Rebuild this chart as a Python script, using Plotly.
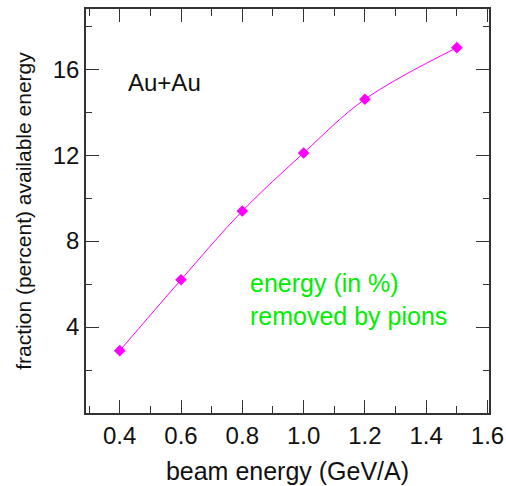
import plotly.graph_objects as go

beam_energy = [0.4, 0.6, 0.8, 1.0, 1.2, 1.5]
fraction_pct = [2.9, 6.2, 9.4, 12.1, 14.6, 17.0]

x_tickvals = [0.4, 0.6, 0.8, 1.0, 1.2, 1.4, 1.6]
x_ticktext = ["0.4", "0.6", "0.8", "1.0", "1.2", "1.4", "1.6"]
y_tickvals = [4, 8, 12, 16]
y_ticktext = ["4", "8", "12", "16"]

FONT = "Liberation Sans, Arial, sans-serif"

fig = go.Figure()
fig.add_trace(go.Scatter(
    x=beam_energy, y=fraction_pct,
    mode="lines+markers",
    line=dict(color="#ff00ff", width=1, shape="spline", smoothing=1.0),
    marker=dict(symbol="diamond", size=9, color="#ff00ff"),
    showlegend=False,
))

axis_common = dict(
    showline=True, linecolor="#333333", linewidth=1.5, mirror="ticks",
    ticks="inside", ticklen=13, tickwidth=1.2, tickcolor="#333333",
    showgrid=False, zeroline=False, automargin=False,
    tickfont=dict(family=FONT, size=24, color="#111111"),
)

fig.update_xaxes(
    range=[0.29, 1.605], tickvals=x_tickvals, ticktext=x_ticktext,
    minor=dict(dtick=0.1, tick0=0.3, ticks="inside", ticklen=7, tickcolor="#333333", tickwidth=1.2, showgrid=False),
    title=dict(text="beam energy (GeV/A)", font=dict(family=FONT, size=25, color="#111111")),
    **axis_common,
)
fig.update_yaxes(
    range=[0, 18.8], tickvals=y_tickvals, ticktext=y_ticktext,
    minor=dict(dtick=2, tick0=0, ticks="inside", ticklen=6, tickcolor="#333333", tickwidth=1.2, showgrid=False),
    title=dict(text="fraction (percent) available energy", font=dict(family=FONT, size=21, color="#111111")),
    **axis_common,
)

fig.add_annotation(x=0.42, y=15.4, xref="x", yref="y", text="Au+Au", showarrow=False,
                   xanchor="left", yanchor="middle", font=dict(family=FONT, size=24, color="#111111"))
fig.add_annotation(x=0.817, y=5.3, xref="x", yref="y", text="energy (in %)<br>removed by pions",
                   showarrow=False, xanchor="left", yanchor="middle", align="left",
                   font=dict(family=FONT, size=25, color="#00ee00"))

fig.update_layout(
    width=506, height=486,
    margin=dict(l=86, r=17, t=9, b=73),
    paper_bgcolor="white", plot_bgcolor="white",
)

fig.write_html("out.html", config={"displayModeBar": False},
               post_script="document.body.style.margin='0';")
